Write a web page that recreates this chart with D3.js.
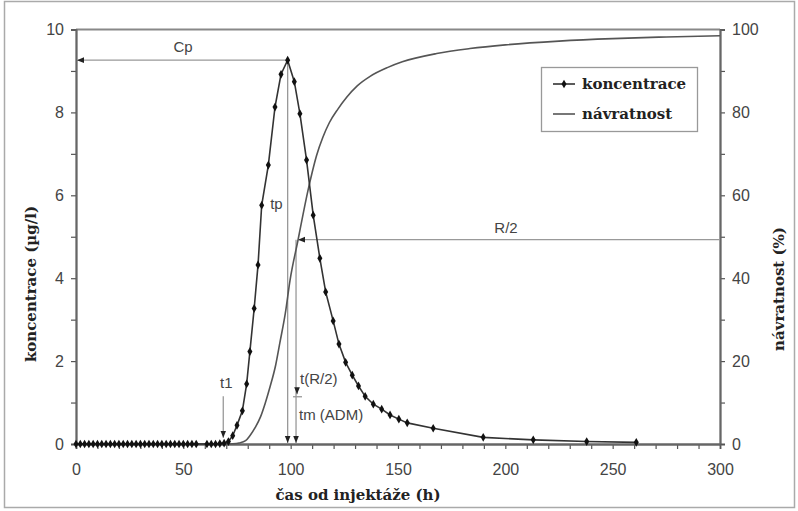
<!DOCTYPE html>
<html><head><meta charset="utf-8">
<script src="https://cdn.jsdelivr.net/npm/d3@7"></script>
<style>body{margin:0;background:#fff}svg{display:block}</style>
</head><body>
<script>
// ---- data ----
const concTimes = [0,2,4,6,8,10,12,14,16,18,20,22,24,26,28,30,32,34,36,38,40,42,44,46,48,50,52,54,56,
  61,63,65,67,69,71,73,75,77.5,79.5,81,83,84.8,86.5,89.6,92.7,95.5,98.6,
  101.7,104.3,107.4,110.5,113.6,116.3,119.8,122.5,125.6,128.7,131.6,134.7,138.5,142.4,146.3,150.4,154.3,166.4,189.7,213,237.9,261];
const concValues = [0,0,0,0,0,0,0,0,0,0,0,0,0,0,0,0,0,0,0,0,0,0,0,0,0,0,0,0,0,
  0,0,0,0.01,0.02,0.06,0.2,0.45,0.8,1.45,2.23,3.27,4.32,5.76,6.73,8.13,8.92,9.26,
  8.74,7.97,6.85,5.52,4.48,3.67,2.97,2.41,1.97,1.66,1.4,1.15,0.96,0.84,0.7,0.6,0.51,0.38,0.16,0.1,0.06,0.04];
const recTimes = [0,70,73,76,79,81,83.5,86,88,90.4,93,95,97.5,99.7,103.5,106,108,110,112,115,118,122,126,131,137,145,152,168,183.5,200,225,250,275,300];
const recValues = [0,0,0.05,0.25,0.8,2.0,4.0,6.6,9.6,13.8,19,24.5,31.5,39.5,49.4,56,61,65.5,69.5,74,77.5,80.8,83.6,86.4,88.7,90.8,92.2,94.2,95.4,96.3,97.2,97.8,98.2,98.5];
const xTicks = [0,50,100,150,200,250,300];
const yLeftTicks = [0,2,4,6,8,10];
const yRightTicks = [0,20,40,60,80,100];
const seriesNames = ["koncentrace","návratnost"];
const annot = {Cp: 9.26, tp: 98.6, t1: 68.6, tR2: 102.5, R2: 49.3};

// ---- layout ----
const W = 798, H = 511;
const x = d3.scaleLinear().domain([0,300]).range([76,720]);
const yL = d3.scaleLinear().domain([0,10]).range([444,29.5]);
const yR = d3.scaleLinear().domain([0,100]).range([444,29.5]);

const svg = d3.select("body").append("svg").attr("width",W).attr("height",H);
svg.append("rect").attr("x",4.5).attr("y",1.5).attr("width",790).attr("height",506)
  .attr("fill","none").attr("stroke","#aaa").attr("stroke-width",1.5);

const defs = svg.append("defs");
defs.append("marker").attr("id","arr").attr("viewBox","0 0 10 10").attr("refX",10).attr("refY",5)
  .attr("markerWidth",7).attr("markerHeight",7).attr("markerUnits","userSpaceOnUse").attr("orient","auto")
  .append("path").attr("d","M0,1L10,5L0,9Z").attr("fill","#222");

const tickFont = "'Liberation Sans', Arial, sans-serif";
const serif = "'DejaVu Serif', 'Liberation Serif', serif";

// top border
svg.append("line").attr("x1",76).attr("x2",720).attr("y1",29.5).attr("y2",29.5)
  .attr("stroke","#888").attr("stroke-width",2);

// axes
const gx = svg.append("g").attr("transform","translate(0,444)")
  .call(d3.axisBottom(x).tickValues(d3.range(0,301,10)).tickSize(5).tickFormat(""));
gx.append("g").call(d3.axisBottom(x).tickValues(xTicks).tickSize(0).tickPadding(20));
const gl = svg.append("g").attr("transform","translate(76,0)")
  .call(d3.axisLeft(yL).tickValues(d3.range(0,10.01,1)).tickSize(5).tickFormat(""));
gl.append("g").call(d3.axisLeft(yL).tickValues(yLeftTicks).tickSize(0).tickPadding(12));
const gr = svg.append("g").attr("transform","translate(720,0)")
  .call(d3.axisRight(yR).tickValues(d3.range(0,100.1,10)).tickSize(5).tickFormat(""));
gr.append("g").call(d3.axisRight(yR).tickValues(yRightTicks).tickSize(0).tickPadding(12));
svg.selectAll(".domain").attr("stroke","#666").attr("stroke-width",1.8);
svg.selectAll(".tick line").attr("stroke","#555").attr("stroke-width",1.2);
svg.selectAll(".tick text").attr("font-family",tickFont).attr("font-size",16).attr("fill","#444");
gl.select("g").select(".domain").remove();
gr.select("g").select(".domain").remove();
gx.select("g").select(".domain").remove();

// annotations
const ag = svg.append("g").attr("stroke","#999").attr("stroke-width",1.3).attr("fill","none");
ag.append("line").attr("x1",x(annot.tp)).attr("y1",yL(annot.Cp)).attr("x2",x(0)+1).attr("y2",yL(annot.Cp)).attr("marker-end","url(#arr)");
ag.append("line").attr("x1",x(annot.tp)).attr("y1",yL(annot.Cp)).attr("x2",x(annot.tp)).attr("y2",yL(0)-1).attr("marker-end","url(#arr)");
ag.append("line").attr("x1",x(300)).attr("y1",yR(annot.R2)).attr("x2",x(annot.tR2)+2).attr("y2",yR(annot.R2)).attr("marker-end","url(#arr)");
ag.append("line").attr("x1",x(annot.tR2)).attr("y1",yR(annot.R2)).attr("x2",x(annot.tR2)).attr("y2",yL(0)-1).attr("marker-end","url(#arr)");
ag.append("line").attr("x1",x(annot.t1)).attr("y1",yL(1.15)).attr("x2",x(annot.t1)).attr("y2",yL(0.15)).attr("marker-end","url(#arr)");
ag.append("line").attr("x1",x(annot.tR2)+1).attr("y1",yL(1.35)).attr("x2",x(annot.tR2)+1).attr("y2",yL(1.2)).attr("marker-end","url(#arr)");
ag.append("line").attr("x1",x(annot.tR2)-3).attr("y1",yL(1.14)).attr("x2",x(annot.tR2)+6).attr("y2",yL(1.14));

const tg = svg.append("g").attr("font-family",tickFont).attr("font-size",15).attr("fill","#444");
tg.append("text").attr("x",183).attr("y",yL(annot.Cp)-8).attr("text-anchor","middle").text("Cp");
tg.append("text").attr("x",x(annot.tp)-5).attr("y",209).attr("text-anchor","end").text("tp");
tg.append("text").attr("x",506).attr("y",yR(annot.R2)-7).attr("text-anchor","middle").text("R/2");
tg.append("text").attr("x",x(annot.t1)+3).attr("y",388).attr("text-anchor","middle").text("t1");
tg.append("text").attr("x",x(annot.tR2)+4).attr("y",384).text("t(R/2)");
tg.append("text").attr("x",x(annot.tR2)+3).attr("y",420).text("tm (ADM)");

// series
const concData = concTimes.map((t,i)=>({t, v: concValues[i]}));
const recData = recTimes.map((t,i)=>({t, v: recValues[i]}));
svg.append("path").datum(recData).attr("fill","none").attr("stroke","#555").attr("stroke-width",1.6)
  .attr("d", d3.line().x(d=>x(d.t)).y(d=>yR(d.v)).curve(d3.curveMonotoneX));
svg.append("path").datum(concData).attr("fill","none").attr("stroke","#333").attr("stroke-width",1.6)
  .attr("d", d3.line().x(d=>x(d.t)).y(d=>yL(d.v)));
const diamond = d3.symbol().type(d3.symbolDiamond).size(22);
svg.append("g").selectAll("path").data(concData).join("path")
  .attr("transform",d=>`translate(${x(d.t)},${yL(d.v)})`).attr("d",diamond).attr("fill","#111");

// axis titles
const titleSize = 15;
svg.append("text").attr("transform","translate(36,284) rotate(-90)").attr("text-anchor","middle")
  .attr("font-family",serif).attr("font-weight","bold").attr("font-size",titleSize).attr("fill","#222")
  .text("koncentrace (µg/l)");
svg.append("text").attr("transform","translate(784,289) rotate(-90)").attr("text-anchor","middle")
  .attr("font-family",serif).attr("font-weight","bold").attr("font-size",titleSize).attr("fill","#222")
  .text("návratnost (%)");
svg.append("text").attr("x",358).attr("y",500).attr("text-anchor","middle")
  .attr("font-family",serif).attr("font-weight","bold").attr("font-size",titleSize).attr("fill","#222")
  .text("čas od injektáže (h)");

// legend
const lg = svg.append("g");
lg.append("rect").attr("x",541.5).attr("y",67.5).attr("width",156).attr("height",64)
  .attr("fill","#fff").attr("stroke","#999").attr("stroke-width",1.3);
lg.append("line").attr("x1",553).attr("x2",575).attr("y1",84).attr("y2",84).attr("stroke","#333").attr("stroke-width",1.6);
lg.append("path").attr("transform","translate(564,84)").attr("d",diamond).attr("fill","#111");
lg.append("line").attr("x1",553).attr("x2",575).attr("y1",114).attr("y2",114).attr("stroke","#555").attr("stroke-width",1.6);
lg.selectAll("text.l").data(seriesNames).join("text").attr("class","l")
  .attr("x",582).attr("y",(d,i)=>89+i*30)
  .attr("font-family",serif).attr("font-weight","bold").attr("font-size",titleSize).attr("fill","#222")
  .text(d=>d);
</script>
</body></html>
